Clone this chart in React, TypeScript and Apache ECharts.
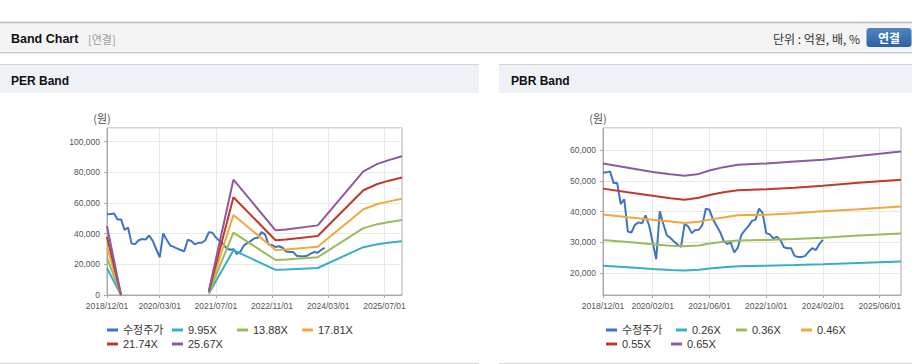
import React, { useEffect, useRef } from 'react';
import * as echarts from 'echarts';

// ---- categories (monthly, 2018/12 .. 2025/12) ----
const firstMonth = { year: 2018, month: 12 };
const monthCount = 85;
const months: string[] = [];
for (let i = 0; i < monthCount; i++) {
  const t = firstMonth.year * 12 + (firstMonth.month - 1) + i;
  const y = Math.floor(t / 12);
  const m = (t % 12) + 1;
  months.push(`${y}/${String(m).padStart(2, '0')}/01`);
}

// ---- tick labels ----
const perTickLabels = ['2018/12/01', '2020/03/01', '2021/07/01', '2022/11/01', '2024/03/01', '2025/07/01'];
const pbrTickLabels = ['2018/12/01', '2020/02/01', '2021/06/01', '2022/10/01', '2024/02/01', '2025/06/01'];

// ---- names ----
const priceName = '수정주가';
const perNames = ['9.95X', '13.88X', '17.81X', '21.74X', '25.67X'];
const pbrNames = ['0.26X', '0.36X', '0.46X', '0.55X', '0.65X'];

// ---- adjusted price (monthly from 2018/12 to 2024/02, 원) ----
const price = [
  52700, 52800, 53100, 49300, 49300, 42500, 44000, 33500, 33200, 35700, 36500, 36200,
  38800, 35500, 30000, 24500, 40100, 36000, 32300, 31400, 30300, 29300, 28500, 36000,
  35200, 33000, 34000, 34100, 35700, 41000, 40600, 37500, 35400, 33400, 30500, 29500,
  29900, 26700, 28300, 32400, 34000, 35300, 37000, 37400, 41000, 39500, 33000, 32600,
  31300, 31800, 30800, 28400, 28100, 28100, 25600, 25200, 25200, 25600, 27000, 28100,
  27500, 29500, 30800,
];

// ---- PER band ----
const perBandMonths = ['2018/12/01', '2019/04/01', '2019/05/01', '2021/05/01', '2021/12/01', '2022/12/01', '2023/03/01', '2023/12/01', '2025/01/01', '2025/05/01', '2025/08/01', '2025/12/01'];
const per995 = [17400, 0, null, 1000, 29200, 16400, 16600, 17600, 31200, 33100, 34000, 35100];
const per1388 = [24300, 0, null, 1400, 40700, 22800, 23100, 24600, 43600, 46200, 47500, 48900];
const per1781 = [31200, 0, null, 1800, 52200, 29300, 29700, 31500, 55900, 59300, 60900, 62800];
const per2174 = [38000, 0, null, 2200, 63700, 35700, 36200, 38500, 68300, 72400, 74400, 76600];
const per2567 = [44900, 0, null, 2600, 75200, 42200, 42700, 45400, 80600, 85500, 87800, 90500];

// ---- PBR band ----
const pbrBandMonths = ['2018/12/01', '2019/07/01', '2020/02/01', '2020/07/01', '2020/11/01', '2021/03/01', '2021/06/01', '2021/10/01', '2022/02/01', '2022/10/01', '2023/06/01', '2024/02/01', '2024/12/01', '2025/12/01'];
const pbr026 = [22400, 21900, 21300, 21000, 20800, 21100, 21500, 21900, 22200, 22400, 22600, 22900, 23300, 23800];
const pbr036 = [30800, 30100, 29400, 28900, 28700, 29000, 29600, 30200, 30600, 30800, 31100, 31500, 32200, 32900];
const pbr046 = [39100, 38200, 37400, 36800, 36300, 36700, 37400, 38100, 38800, 39000, 39500, 40100, 40800, 41700];
const pbr055 = [47500, 46300, 45200, 44400, 43900, 44500, 45400, 46300, 47000, 47300, 47800, 48400, 49400, 50400];
const pbr065 = [55700, 54300, 52900, 52200, 51700, 52300, 53400, 54500, 55300, 55700, 56300, 56900, 58100, 59600];

const perBands = [per995, per1388, per1781, per2174, per2567];
const pbrBands = [pbr026, pbr036, pbr046, pbr055, pbr065];

const priceColor = '#3d74c6';
const bandColors = ['#39aec4', '#9bbb59', '#f0a83c', '#c0392b', '#8b5a9f'];

const FONT = 'Arial, "Liberation Sans", "Noto Sans CJK KR", sans-serif';
const KFONT = '"Noto Sans CJK KR", Arial, sans-serif';

function fmt(v: number) {
  return String(Math.round(v)).replace(/\B(?=(\d{3})+(?!\d))/g, ',');
}

export default function App() {
  const ref = useRef<HTMLDivElement>(null);
  useEffect(() => {
    document.body.style.margin = '0';
    const chart = echarts.init(ref.current!, undefined, { renderer: 'svg' });

    const xAxisBase = (gridIndex: number, ticks: string[]) => {
      const show = (_i: number, v: string) => ticks.includes(v);
      return {
        type: 'category',
        gridIndex,
        data: months,
        boundaryGap: false,
        axisLine: { lineStyle: { color: '#aaaaaa' } },
        axisTick: { show: true, length: 3, interval: show, lineStyle: { color: '#aaaaaa' } },
        axisLabel: { interval: show, color: '#555', fontSize: 8.5, fontFamily: FONT, margin: 7 },
        splitLine: { show: true, interval: show, lineStyle: { color: '#e8e8e8' } },
      };
    };
    const yAxisBase = (gridIndex: number, min: number, max: number) => ({
      type: 'value',
      gridIndex,
      min,
      max,
      splitNumber: 5,
      axisLine: { show: true, lineStyle: { color: '#aaaaaa' } },
      axisTick: { show: true, length: 3, lineStyle: { color: '#aaaaaa' } },
      axisLabel: {
        color: '#555', fontSize: 8.5, fontFamily: FONT, margin: 7,
        showMinLabel: min === 0, showMaxLabel: false,
        formatter: (v: number) => fmt(v),
      },
      splitLine: { show: true, lineStyle: { color: '#e8e8e8' } },
    });

    const lineSeries = (name: string, idx: number, color: string, data: any[]) => ({
      name,
      type: 'line',
      xAxisIndex: idx,
      yAxisIndex: idx,
      data,
      symbol: 'none',
      connectNulls: false,
      lineStyle: { width: 2, color },
      itemStyle: { color },
    });

    const series: any[] = [];
    series.push(lineSeries(priceName, 0, priceColor, price));
    perBands.forEach((b, k) => series.push(lineSeries(perNames[k], 0, bandColors[k], perBandMonths.map((m, i) => [m, b[i]]))));
    series.push(lineSeries(priceName, 1, priceColor, price));
    pbrBands.forEach((b, k) => series.push(lineSeries(pbrNames[k], 1, bandColors[k], pbrBandMonths.map((m, i) => [m, b[i]]))));

    const legendBase = {
      orient: 'horizontal',
      itemWidth: 11,
      itemHeight: 3,
      icon: 'rect',
      itemGap: 4,
      padding: 0,
      selectedMode: false,
      textStyle: { fontSize: 11, color: '#333', fontFamily: FONT, width: 45, lineHeight: 14 },
    };

    const txt = (text: string, x: number, y: number, opts: any = {}) => ({
      type: 'text',
      x,
      y,
      style: {
        text,
        fill: opts.fill || '#222',
        font: opts.font || `12px ${FONT}`,
        textAlign: opts.align || 'left',
        textVerticalAlign: 'middle',
        align: opts.align || 'left',
        verticalAlign: 'middle',
      },
      z: 10,
    });

    const graphics: any[] = [
      // header bar
      { type: 'rect', shape: { x: 0, y: 22, width: 912, height: 31 }, style: { fill: '#f4f4f4' }, z: 1 },
      { type: 'line', shape: { x1: 0, y1: 22.5, x2: 912, y2: 22.5 }, style: { stroke: '#b9b9b9', lineWidth: 1.5 }, z: 2 },
      { type: 'line', shape: { x1: 0, y1: 52.5, x2: 912, y2: 52.5 }, style: { stroke: '#c9c9c9', lineWidth: 1 }, z: 2 },
      { type: 'line', shape: { x1: 0, y1: 53.5, x2: 912, y2: 53.5 }, style: { stroke: '#e6e6e6', lineWidth: 1 }, z: 2 },
      txt('Band Chart', 11, 38.5, { font: `bold 12.5px ${FONT}`, fill: '#111' }),
      txt('[연결]', 88, 38.5, { font: `11px ${KFONT}`, fill: '#9a9a9a' }),
      txt('단위 : 억원, 배, %', 860, 38.5, { font: `12px ${KFONT}`, fill: '#333', align: 'right' }),
      {
        type: 'rect', shape: { x: 866.5, y: 28, width: 45, height: 19, r: 3 },
        style: { fill: new echarts.graphic.LinearGradient(0, 0, 0, 1, [{ offset: 0, color: '#4f84c4' }, { offset: 1, color: '#2d62a6' }]) }, z: 3,
      },
      txt('연결', 889, 37.5, { font: `bold 12px ${KFONT}`, fill: '#ffffff', align: 'center' }),
      // panels
      { type: 'rect', shape: { x: 0, y: 64, width: 479, height: 29 }, style: { fill: '#eef1f6' }, z: 1 },
      { type: 'rect', shape: { x: 499, y: 64, width: 413, height: 29 }, style: { fill: '#eef1f6' }, z: 1 },
      { type: 'line', shape: { x1: 0, y1: 64.5, x2: 479, y2: 64.5 }, style: { stroke: '#d4d4d4', lineWidth: 1 }, z: 2 },
      { type: 'line', shape: { x1: 499, y1: 64.5, x2: 912, y2: 64.5 }, style: { stroke: '#d4d4d4', lineWidth: 1 }, z: 2 },
      { type: 'line', shape: { x1: 0, y1: 363.5, x2: 479, y2: 363.5 }, style: { stroke: '#d8d8d8', lineWidth: 1 }, z: 2 },
      { type: 'line', shape: { x1: 499, y1: 363.5, x2: 912, y2: 363.5 }, style: { stroke: '#d8d8d8', lineWidth: 1 }, z: 2 },
      txt('PER Band', 11, 80.5, { font: `bold 12px ${FONT}`, fill: '#111' }),
      txt('PBR Band', 511, 80.5, { font: `bold 12px ${FONT}`, fill: '#111' }),
      txt('(원)', 102, 118, { font: `11px ${KFONT}`, fill: '#555', align: 'center' }),
      txt('(원)', 598, 118, { font: `11px ${KFONT}`, fill: '#555', align: 'center' }),
    ];

    chart.setOption({
      animation: false,
      backgroundColor: '#ffffff',
      grid: [
        { left: 107, top: 128, width: 295, height: 167, show: true, borderColor: '#aaaaaa', borderWidth: 1 },
        { left: 603, top: 128, width: 298, height: 167, show: true, borderColor: '#aaaaaa', borderWidth: 1 },
      ],
      xAxis: [xAxisBase(0, perTickLabels), xAxisBase(1, pbrTickLabels)],
      yAxis: [yAxisBase(0, 0, 108900), yAxisBase(1, 12850, 67250)],
      legend: [
        { ...legendBase, left: 107, top: 323, data: [priceName, perNames[0], perNames[1], perNames[2]] },
        { ...legendBase, left: 107, top: 337, data: [perNames[3], perNames[4]] },
        {
          ...legendBase, left: 606, top: 323,
          data: [
            { name: priceName, textStyle: { width: 50 } },
            { name: pbrNames[0], textStyle: { width: 40 } },
            { name: pbrNames[1], textStyle: { width: 45 } },
            { name: pbrNames[2], textStyle: { width: 45 } },
          ],
        },
        { ...legendBase, left: 606, top: 337, data: [pbrNames[3], pbrNames[4]] },
      ],
      graphic: { elements: graphics },
      series,
    });
    return () => chart.dispose();
  }, []);
  return <div ref={ref} style={{ width: 912, height: 364 }} />;
}
